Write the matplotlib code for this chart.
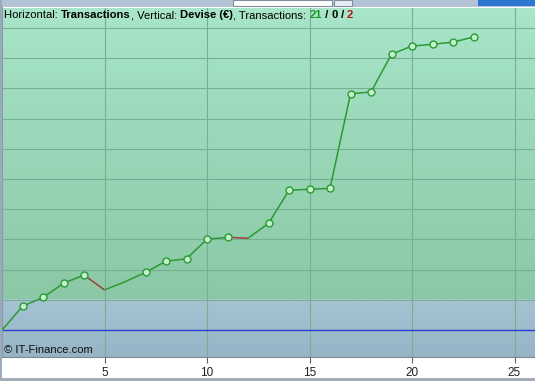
import numpy as np
import matplotlib.pyplot as plt
from matplotlib.collections import LineCollection
from matplotlib.patches import Rectangle

# equity curve, in grid units (one gridline = one unit)
trades = list(range(0, 24))
equity = [0.0, 0.79, 1.08, 1.55, 1.82, 1.33, 1.60, 1.91, 2.28, 2.36,
          3.01, 3.07, 3.04, 3.53, 4.63, 4.66, 4.69, 7.82, 7.88, 9.13,
          9.40, 9.46, 9.53, 9.70]
xticks = [5, 10, 15, 20, 25]
n_win, n_flat, n_loss = 21, 0, 2

W, H = 535, 381
fig = plt.figure(figsize=(W / 100, H / 100), dpi=100)
fig.patch.set_facecolor('white')

# plot area in pixels
left, top, bottom = 2, 8, 357
ax = fig.add_axes([left / W, (H - bottom) / H, (W - left) / W, (bottom - top) / H])
ymin, ymax = -0.89, 10.66
xmin, xmax = 0, 26.0
ax.set_xlim(xmin, xmax)
ax.set_ylim(ymin, ymax)

# background gradients
green = np.linspace(0, 1, 50)[:, None]
gtop = np.array([168, 229, 201]) / 255
gbot = np.array([138, 200, 166]) / 255
gimg = gtop + (gbot - gtop) * green[..., None]
ax.imshow(gimg, extent=[xmin, xmax, 1, ymax], aspect='auto', zorder=0)
btop = np.array([164, 196, 210]) / 255
bbot = np.array([150, 180, 198]) / 255
bimg = btop + (bbot - btop) * green[..., None]
ax.imshow(bimg, extent=[xmin, xmax, ymin, 1], aspect='auto', zorder=0)

# grid
for g in range(1, 11):
    ax.axhline(g, color='#7aae90', lw=0.8, zorder=1)
for t in xticks:
    ax.axvline(t, color='#7aae90', lw=0.8, zorder=1)
ax.axhline(0, color='#2a3fd0', lw=1.0, zorder=2)

# equity line, red where the trade lost
pts = np.column_stack([trades, equity])
segs = np.stack([pts[:-1], pts[1:]], axis=1)
cols = ['#2a9a34' if b >= a else '#a0403a' for a, b in zip(equity[:-1], equity[1:])]
ax.add_collection(LineCollection(segs, colors=cols, lw=1.1, zorder=3))

# markers on new highs
best = 0.0
hx, hy = [], []
for t, v in zip(trades[1:], equity[1:]):
    if v > best:
        hx.append(t)
        hy.append(v)
        best = v
ax.plot(hx, hy, 'o', ms=5, mfc='#c4f0cc', mec='#2a9a34', mew=1.0, zorder=4)

ax.set_xticks(xticks)
ax.set_yticks([])
ax.tick_params(axis='x', length=4, width=0.8, color='#606060', pad=3,
               labelsize=8.5, labelcolor='#202020')
for lab in ax.get_xticklabels():
    lab.set_family('Liberation Sans')
for s in ['top', 'right']:
    ax.spines[s].set_visible(False)
ax.spines['bottom'].set_color('#7f8a90')
ax.spines['left'].set_color('#8a9aa8')
ax.spines['left'].set_linewidth(1.5)

# header text
fs = 8.1
fam = 'Liberation Sans'
parts = [('Horizontal: ', 'normal', 'black'), ('Transactions', 'bold', 'black'),
         (', Vertical: ', 'normal', 'black'), ('Devise (€)', 'bold', 'black'),
         (', Transactions: ', 'normal', 'black'), (str(n_win), 'bold', '#1f9a2a'),
         (' / ', 'bold', 'black'), (str(n_flat), 'bold', 'black'),
         (' / ', 'bold', 'black'), (str(n_loss), 'bold', '#b01818')]
fig.canvas.draw()
r = fig.canvas.get_renderer()
xp = 4
for txt, wt, c in parts:
    t = fig.text(xp / W, 1 - 15 / H, txt, fontsize=fs, family=fam, weight=wt,
                 color=c, va='center', ha='left')
    xp += t.get_window_extent(r).width
fig.text(4 / W, 1 - 350 / H, '© IT-Finance.com', fontsize=fs, family=fam,
         color='#101010', va='center', ha='left')

# window chrome at the top and bottom
fig.patches.append(Rectangle((0, 1 - 7 / H), 1, 7 / H, transform=fig.transFigure,
                             facecolor='#b4c4d4', edgecolor='none'))
fig.patches.append(Rectangle((233 / W, 1 - 6 / H), 99 / W, 6 / H, transform=fig.transFigure,
                             facecolor='white', edgecolor='#8090a0', lw=0.8))
fig.patches.append(Rectangle((334 / W, 1 - 6 / H), 18 / W, 6 / H, transform=fig.transFigure,
                             facecolor='#e8eef4', edgecolor='#8090a0', lw=0.8))
fig.patches.append(Rectangle((478 / W, 1 - 6 / H), 57 / W, 6 / H, transform=fig.transFigure,
                             facecolor='#2c78d0', edgecolor='none'))
fig.patches.append(Rectangle((0, 0), 1, 3 / H, transform=fig.transFigure,
                             facecolor='#a4acb8', edgecolor='none'))
fig.patches.append(Rectangle((0, 0), 2 / W, 1, transform=fig.transFigure,
                             facecolor='#9aaab8', edgecolor='none'))

fig.savefig('out.png', dpi=100)
